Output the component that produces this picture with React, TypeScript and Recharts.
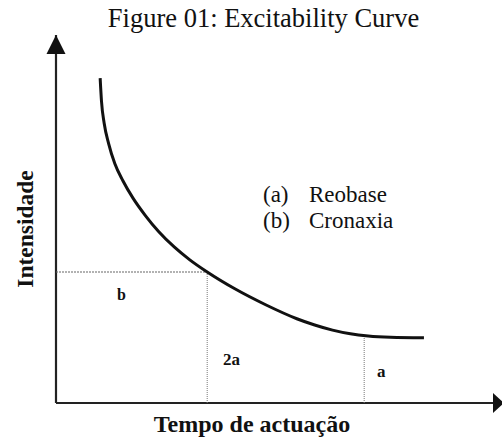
import React from 'react';
import { LineChart, Line, XAxis, YAxis, ReferenceLine, ReferenceDot } from 'recharts';

// curve (time vs intensity, both 0..100 of the axes)
const timeValues = [9.9, 10.2, 10.8, 11.8, 13.2, 15.0, 17.3, 20.0, 23.0, 26.5, 30.0, 33.9, 40.0, 47.0, 54.0, 58.0, 62.0, 66.0, 70.0, 75.0, 82.5];
const intensityValues = [88.3, 82.0, 76.0, 70.5, 65.0, 60.4, 55.6, 51.0, 46.6, 42.4, 38.9, 35.6, 31.1, 26.7, 22.9, 21.2, 19.8, 18.8, 18.2, 17.85, 17.7];

// chronaxie (2a) and rheobase (a) guide points
const guideTimes = [33.9, 69.1];
const guideIntensities = [35.6, 18.3];

const legendKeys = ['(a)', '(b)'];
const legendNames = ['Reobase', 'Cronaxia'];

const data = timeValues.map((t, i) => ({ time: t, intensity: intensityValues[i] }));

const FONT = '"Liberation Serif", "Times New Roman", serif';

const UpArrow = (props: any) => {
  const { cx, cy } = props;
  return <polygon points={`${cx},${cy} ${cx - 9.5},${cy + 19} ${cx + 9.5},${cy + 19}`} fill="#111" />;
};

const RightArrow = (props: any) => {
  const { cx, cy } = props;
  return <polygon points={`${cx + 2},${cy} ${cx - 9},${cy - 10} ${cx - 9},${cy + 10}`} fill="#111" />;
};

export default function App() {
  return (
    <div style={{ position: 'absolute', left: 0, top: 0, width: 502, height: 438, background: '#fff' }}>
      <LineChart width={502} height={438} data={data} margin={{ top: 35, right: 0, bottom: 35, left: 56 }}>
        <XAxis dataKey="time" type="number" domain={[0, 100]} hide />
        <YAxis type="number" domain={[0, 100]} hide />
        {/* axes */}
        <ReferenceLine segment={[{ x: 0, y: 0 }, { x: 100, y: 0 }]} stroke="#222" strokeWidth={2.2} ifOverflow="visible" />
        <ReferenceLine segment={[{ x: 0, y: 0 }, { x: 0, y: 100 }]} stroke="#222" strokeWidth={2.2} ifOverflow="visible" />
        {/* guides */}
        <ReferenceLine
          segment={[{ x: 0, y: guideIntensities[0] }, { x: guideTimes[0], y: guideIntensities[0] }]}
          stroke="#666"
          strokeDasharray="2 1"
          strokeWidth={1.2}
        />
        <ReferenceLine
          segment={[{ x: guideTimes[0], y: 0 }, { x: guideTimes[0], y: guideIntensities[0] }]}
          stroke="#777"
          strokeDasharray="1 1"
          strokeWidth={1}
        />
        <ReferenceLine
          segment={[{ x: guideTimes[1], y: 0 }, { x: guideTimes[1], y: guideIntensities[1] }]}
          stroke="#777"
          strokeDasharray="1 1"
          strokeWidth={1}
        />
        <Line
          type="monotone"
          dataKey="intensity"
          stroke="#111"
          strokeWidth={3}
          dot={false}
          isAnimationActive={false}
        />
        <ReferenceDot x={0} y={100} r={0} ifOverflow="visible" shape={UpArrow} />
        <ReferenceDot x={100} y={0} r={0} ifOverflow="visible" shape={RightArrow} />
      </LineChart>

      <svg width={502} height={438} style={{ position: 'absolute', left: 0, top: 0, pointerEvents: 'none' }}>
        <g fontFamily={FONT} fill="#111">
          <text x={263.5} y={27} fontSize={26.5} textAnchor="middle">
            Figure 01: Excitability Curve
          </text>
          {legendKeys.map((k, i) => (
            <g key={k} fontSize={23}>
              <text x={263} y={202 + i * 26}>{k}</text>
              <text x={309} y={202 + i * 26}>{legendNames[i]}</text>
            </g>
          ))}
          <text transform="translate(33,229) rotate(-90)" fontSize={23.5} fontWeight="bold" textAnchor="middle">
            Intensidade
          </text>
          <text x={252} y={432} fontSize={24} fontWeight="bold" textAnchor="middle">
            Tempo de actuação
          </text>
          <text x={117} y={300} fontSize={16} fontWeight="bold">b</text>
          <text x={223} y={365} fontSize={17} fontWeight="bold">2a</text>
          <text x={377} y={377} fontSize={17} fontWeight="bold">a</text>
        </g>
      </svg>
    </div>
  );
}
